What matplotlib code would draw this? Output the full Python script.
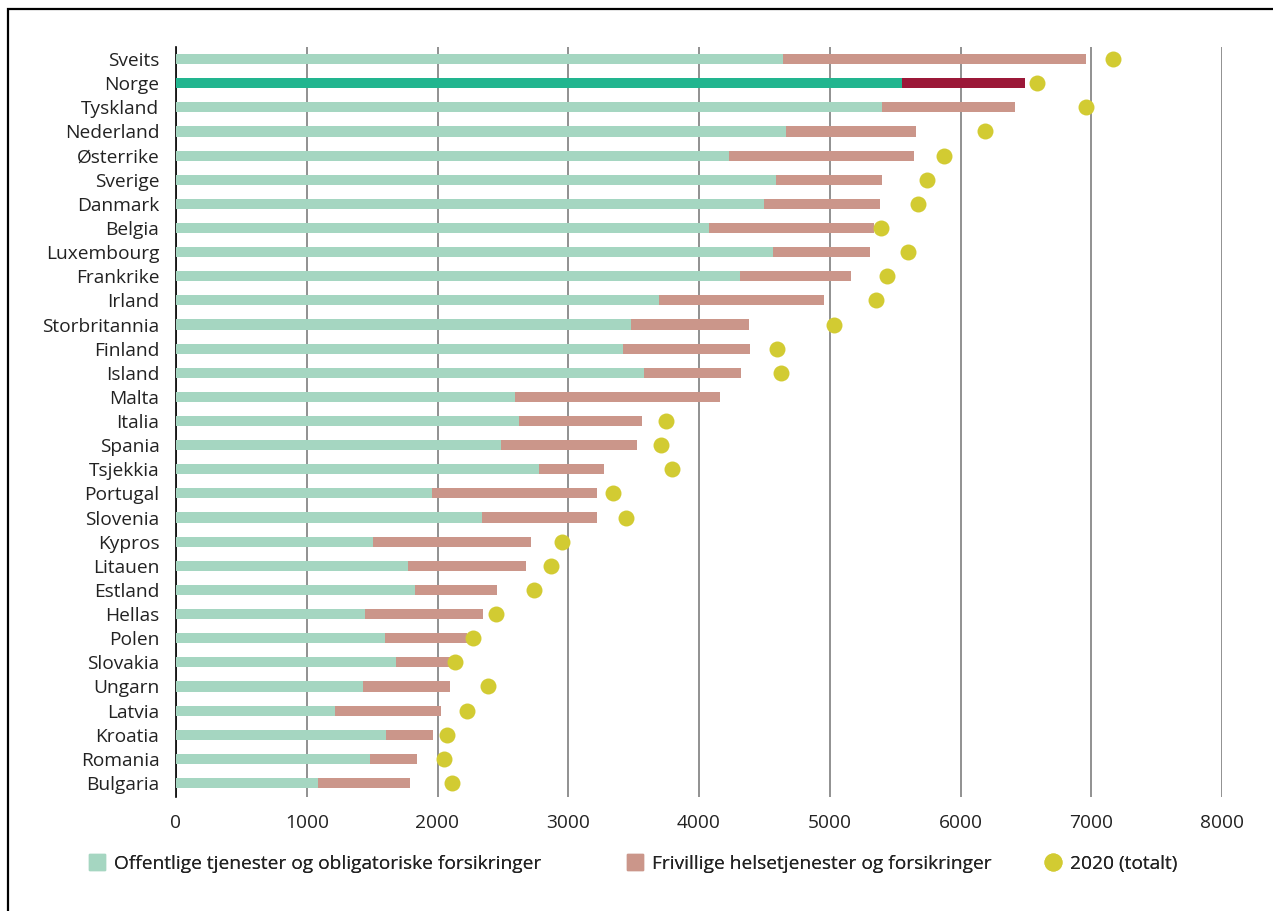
import matplotlib.pyplot as plt
from matplotlib.lines import Line2D
from matplotlib.patches import Rectangle

plt.rcParams["font.family"] = ["Open Sans", "DejaVu Sans"]

countries = [
    "Sveits", "Norge", "Tyskland", "Nederland", "Østerrike", "Sverige", "Danmark",
    "Belgia", "Luxembourg", "Frankrike", "Irland", "Storbritannia", "Finland",
    "Island", "Malta", "Italia", "Spania", "Tsjekkia", "Portugal", "Slovenia",
    "Kypros", "Litauen", "Estland", "Hellas", "Polen", "Slovakia", "Ungarn",
    "Latvia", "Kroatia", "Romania", "Bulgaria",
]
public = [
    4640, 5550, 5396, 4665, 4229, 4589, 4497, 4073, 4566, 4314, 3694, 3480, 3419,
    3579, 2593, 2623, 2486, 2776, 1958, 2340, 1507, 1774, 1828, 1446, 1599, 1683,
    1430, 1216, 1606, 1484, 1086,
]
total_2019 = [
    6958, 6494, 6418, 5660, 5641, 5400, 5381, 5340, 5308, 5162, 4956, 4382, 4390,
    4321, 4161, 3564, 3526, 3273, 3220, 3220, 2715, 2677, 2455, 2348, 2226, 2108,
    2096, 2027, 1966, 1843, 1790,
]
total_2020 = [
    7165, 6585, 6960, 6190, 5875, 5740, 5675, 5395, 5600, 5440, 5350, 5030, 4595,
    4630, None, 3750, 3712, 3797, 3340, 3440, 2950, 2865, 2735, 2450, 2275, 2136,
    2390, 2224, 2076, 2050, 2108,
]
voluntary = [t - p for t, p in zip(total_2019, public)]

green = "#a5d6c1"
green_no = "#22b58f"
red = "#cb968a"
red_no = "#9b1838"
dot = "#d2cb32"

fig = plt.figure(figsize=(12.73, 9.11), dpi=100)
ax = fig.add_axes([176 / 1273, 1 - 797 / 911, (1222 - 176) / 1273, 750 / 911])

y = list(range(len(countries)))
pub_colors = [green_no if c == "Norge" else green for c in countries]
vol_colors = [red_no if c == "Norge" else red for c in countries]
ax.barh(y, public, height=0.42, color=pub_colors, zorder=2)
ax.barh(y, voluntary, left=public, height=0.42, color=vol_colors, zorder=2)

dy = [i for i, v in zip(y, total_2020) if v is not None]
dx = [v for v in total_2020 if v is not None]
ax.plot(dx, dy, "o", color=dot, markersize=11.5, markeredgewidth=0, zorder=3)

ax.set_xlim(0, 8000)
ax.set_ylim(30.58, -0.5)
ax.set_xticks(range(0, 8001, 1000))
ax.set_yticks(y)
ax.set_yticklabels(countries)
ax.tick_params(axis="both", length=0, labelsize=13.8, colors="#222222")
ax.tick_params(axis="y", pad=12)
ax.tick_params(axis="x", pad=12)
ax.grid(axis="x", color="#888888", linewidth=1.3, zorder=0)
ax.set_axisbelow(True)
for side in ["top", "right", "bottom"]:
    ax.spines[side].set_visible(False)
ax.spines["left"].set_color("black")
ax.spines["left"].set_linewidth(1.2)
ax.spines["left"].set_zorder(1)

# one legend per entry so the gaps match the original layout
legend_items = [
    ("s", green, "Offentlige tjenester og obligatoriske forsikringer", 80),
    ("s", red, "Frivillige helsetjenester og forsikringer", 618),
    ("o", dot, "2020 (totalt)", 1036),
]
for marker, color, label, left_px in legend_items:
    handle = Line2D([], [], marker=marker, linestyle="none", color=color, markersize=12)
    leg = fig.legend([handle], [label], loc="center left",
                     bbox_to_anchor=(left_px / 1273, 1 - 864 / 911),
                     frameon=False, fontsize=13.8, handlelength=1.0, handletextpad=0.35,
                     labelcolor="#222222", borderaxespad=0)
    fig.add_artist(leg)

fig.patches.append(Rectangle((8 / 1273, -0.1), 1.2, 0.1 + (911 - 9) / 911,
                             transform=fig.transFigure, fill=False,
                             edgecolor="black", linewidth=1.6))

fig.savefig("out.png", dpi=100)
